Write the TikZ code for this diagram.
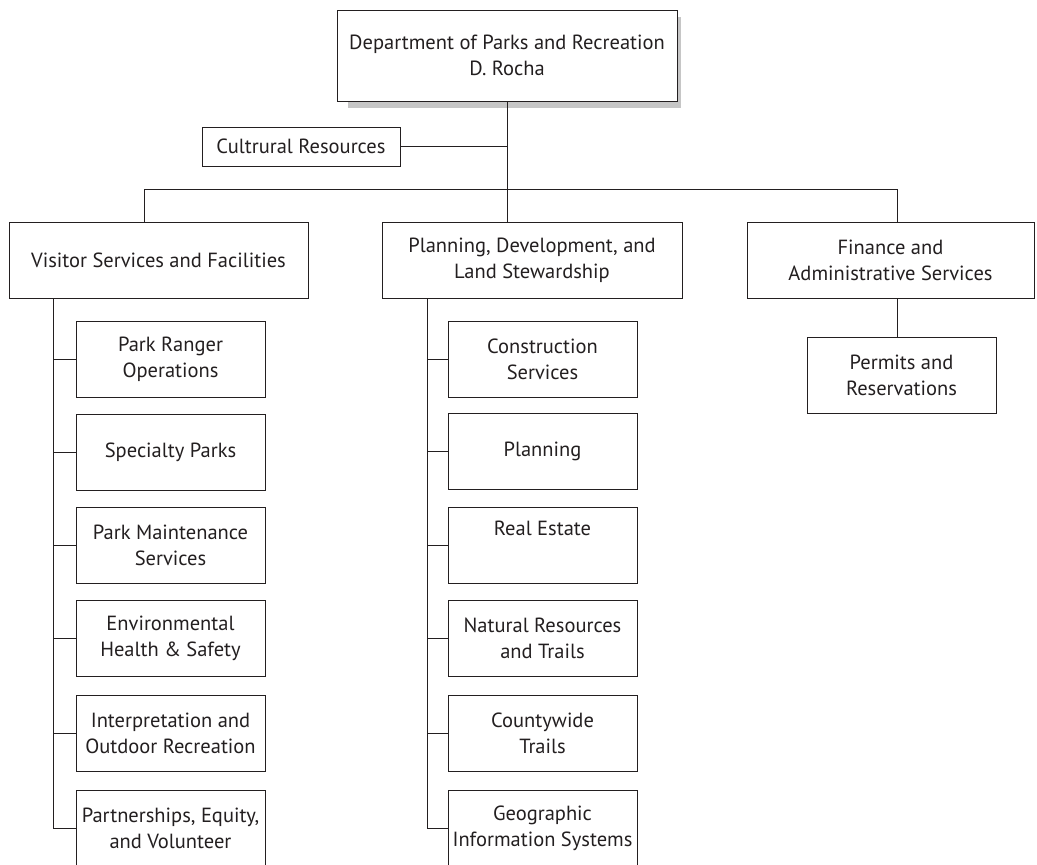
\documentclass[tikz,border=0pt]{standalone}
\usepackage{fontspec}
\setmainfont{PT Sans}
\definecolor{ink}{HTML}{231F20}
\tikzset{
	unit/.style={draw=ink, fill=white, line width=1pt, inner sep=0pt, align=center, text=ink, minimum height=76pt},
	sub/.style={unit, minimum width=189pt},
	link/.style={draw=ink, line width=0.9pt},
}
\begin{document}
\begin{tikzpicture}[x=1pt, y=-1pt, font=\fontsize{20.5}{26}\selectfont]
	\useasboundingbox (0,0) rectangle (1037,865);
	\clip (0,0) rectangle (1037,865);
	% head of department, with its shadow
	\fill[gray!45] (348,17) rectangle (681,108);
	\node[unit, minimum width=340pt, minimum height=91pt] (dept) at (507,55.5) {Department of Parks and Recreation\\D. Rocha};
	\node[unit, minimum width=198pt, minimum height=39pt] (cult) at (301,146.5) {Cultrural Resources};
	\node[unit, minimum width=299pt] (vis) at (158.5,260) {Visitor Services and Facilities};
	\node[unit, minimum width=300pt] (plan) at (532,260) {Planning, Development, and\\Land Stewardship};
	\node[unit, minimum width=287pt] (fin) at (890.5,260) {Finance and\\Administrative Services};
	\node[sub] (permits) at (901.5,375) {Permits and\\Reservations};
	\foreach \n/\y/\t in {1/359/{Park Ranger\\Operations}, 2/452/{Specialty Parks}, 3/545/{Park Maintenance\\Services}, 4/638/{Environmental\\Health \& Safety}, 5/733/{Interpretation and\\Outdoor Recreation}, 6/828/{Partnerships, Equity,\\and Volunteer}}
	\node[sub] (v\n) at (170.5,\y) {\t};
	\foreach \n/\y/\t in {1/359/{Construction\\Services}, 2/451/{Planning}, 3/545/{Real Estate\\\strut}, 4/638/{Natural Resources\\and Trails}, 5/733/{Countywide\\Trails}, 6/828/{Geographic\\Information Systems}}
	\node[sub] (p\n) at (542.5,\y) {\t};
	% reporting lines
	\coordinate (bl) at (144,189);
	\coordinate (br) at (897,189);
	\coordinate (trunk) at (dept.south |- bl);
	\coordinate (vtop) at (53,298);
	\coordinate (ptop) at (427,298);
	\draw[link] (dept.south) -- (trunk);
	\draw[link] (cult.east) -- (cult.east -| trunk);
	\draw[link] (bl) -- (br);
	\draw[link] (bl) -- (bl |- vis.north);
	\draw[link] (trunk) -- (trunk |- plan.north);
	\draw[link] (br) -- (br |- fin.north);
	\draw[link] (br |- fin.south) -- (br |- permits.north);
	\draw[link] (vtop) -- (vtop |- v6.west) -- (v6.west);
	\draw[link] (ptop) -- (ptop |- p6.west) -- (p6.west);
	\foreach \n in {1,...,5}
	{
		\draw[link] (v\n.west -| vtop) -- (v\n.west);
		\draw[link] (p\n.west -| ptop) -- (p\n.west);
	}
\end{tikzpicture}
\end{document}
